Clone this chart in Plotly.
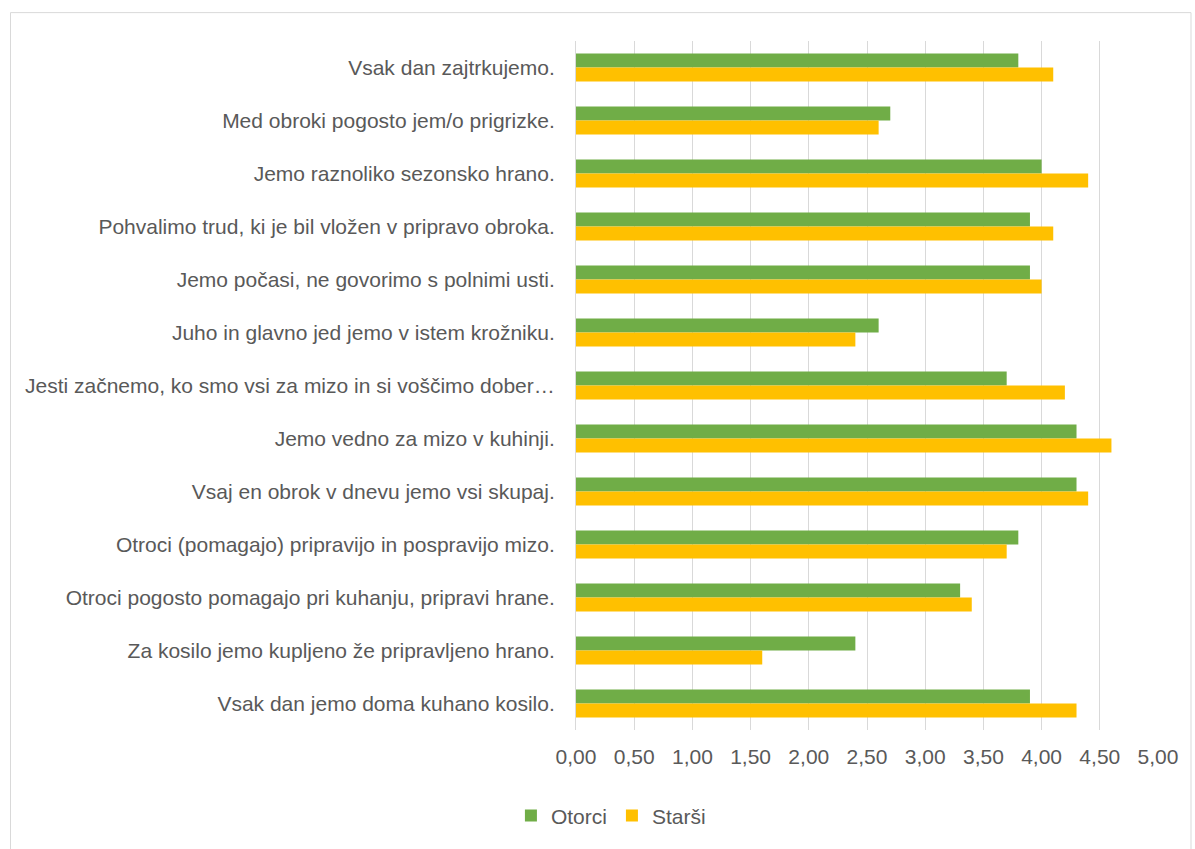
import plotly.graph_objects as go

categories = [
    "Vsak dan zajtrkujemo.",
    "Med obroki pogosto jem/o prigrizke.",
    "Jemo raznoliko sezonsko hrano.",
    "Pohvalimo trud, ki je bil vložen v pripravo obroka.",
    "Jemo počasi, ne govorimo s polnimi usti.",
    "Juho in glavno jed jemo v istem krožniku.",
    "Jesti začnemo, ko smo vsi za mizo in si voščimo dober…",
    "Jemo vedno za mizo v kuhinji.",
    "Vsaj en obrok v dnevu jemo vsi skupaj.",
    "Otroci (pomagajo) pripravijo in pospravijo mizo.",
    "Otroci pogosto pomagajo pri kuhanju, pripravi hrane.",
    "Za kosilo jemo kupljeno že pripravljeno hrano.",
    "Vsak dan jemo doma kuhano kosilo.",
]
otroci = [3.8, 2.7, 4.0, 3.9, 3.9, 2.6, 3.7, 4.3, 4.3, 3.8, 3.3, 2.4, 3.9]
starsi = [4.1, 2.6, 4.4, 4.1, 4.0, 2.4, 4.2, 4.6, 4.4, 3.7, 3.4, 1.6, 4.3]
tick_vals = [0, 0.5, 1, 1.5, 2, 2.5, 3, 3.5, 4, 4.5, 5]

font_family = "Liberation Sans, Arial, sans-serif"
txt_color = "#595959"

fig = go.Figure()
fig.add_trace(go.Bar(y=categories, x=otroci, orientation="h", name="Otorci",
                     marker=dict(color="#70AD47", line=dict(width=0))))
fig.add_trace(go.Bar(y=categories, x=starsi, orientation="h", name="Starši",
                     marker=dict(color="#FFC000", line=dict(width=0))))

W, H = 1195, 849
l, r, t, b = 576, 37, 41, 116
pw, ph = W - l - r, H - t - b

fig.update_layout(
    width=W, height=H,
    margin=dict(l=l, r=r, t=t, b=b),
    paper_bgcolor="white", plot_bgcolor="white",
    barmode="group", bargap=0.47, bargroupgap=0,
    separators=",.",
    font=dict(family=font_family, size=21, color=txt_color),
    legend=dict(orientation="h", x=0.06, xanchor="center", y=-0.095, yanchor="top",
                font=dict(size=21, color=txt_color), traceorder="normal",
                itemwidth=30),
    xaxis=dict(range=[0, 5], tickvals=tick_vals, tickformat=".2f",
               showgrid=True, gridcolor="#D9D9D9", gridwidth=1,
               zeroline=False, showline=False, ticks="",
               tickfont=dict(size=21, color=txt_color), ticklabelstandoff=12),
    yaxis=dict(autorange="reversed", showgrid=False, zeroline=False,
               showline=True, linecolor="#D9D9D9", linewidth=1, ticks="",
               tickfont=dict(size=21, color=txt_color), ticklabelstandoff=16),
    shapes=[dict(type="rect", xref="paper", yref="paper",
                 x0=(10.5 - l) / pw, x1=(1191 - l) / pw,
                 y0=(H - b - 860) / ph, y1=(H - b - 12.5) / ph,
                 line=dict(color="#D9D9D9", width=1), fillcolor="rgba(0,0,0,0)",
                 layer="below")],
)

fig.write_html("out.html")
